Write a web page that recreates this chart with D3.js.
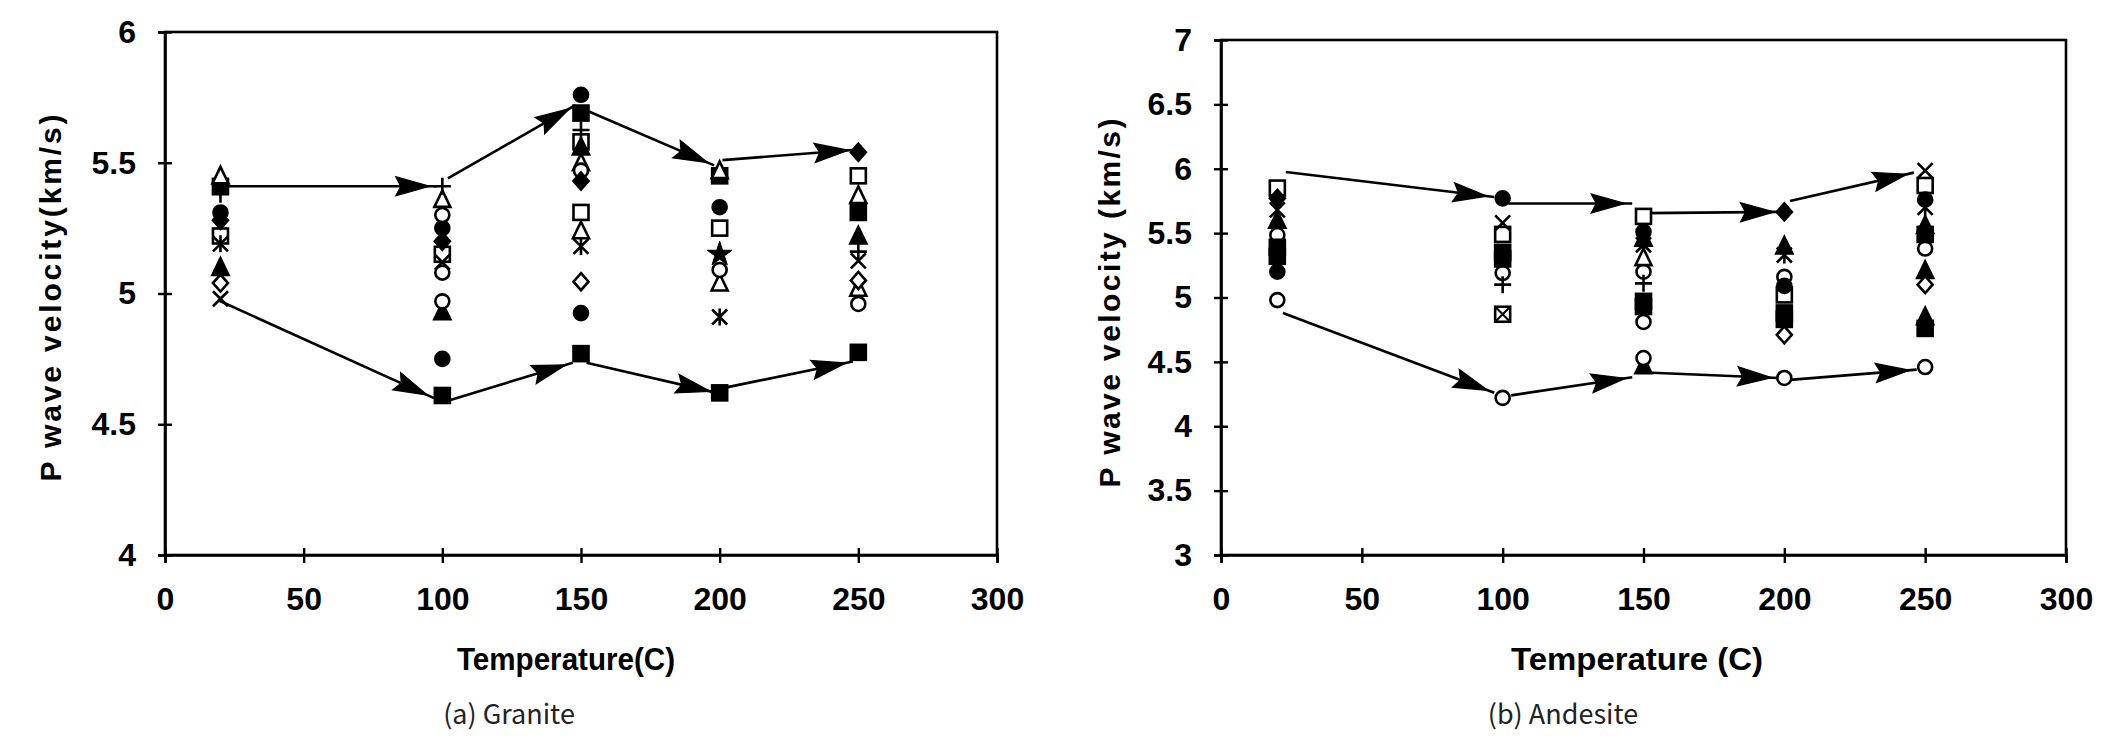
<!DOCTYPE html>
<html>
<head>
<meta charset="utf-8">
<script src="https://cdn.jsdelivr.net/npm/d3@7"></script>
<style>
  html, body { margin: 0; padding: 0; background: #fff; }
  svg { display: block; }
</style>
</head>
<body>
<svg id="chart" width="2127" height="756"></svg>
<script>
// ---------------- DATA ----------------
const temps = [20, 100, 150, 200, 250];
const xTicks = [0, 50, 100, 150, 200, 250, 300];
const graniteYTicks = [4, 4.5, 5, 5.5, 6];
const andesiteYTicks = [3, 3.5, 4, 4.5, 5, 5.5, 6, 6.5, 7];

// Granite P-wave velocity (km/s) by marker type, at temps 20/100/150/200/250 C
const graniteFilledSquare1 = [5.41, 4.61, 4.77, 4.62, 4.775];
const graniteFilledSquare2 = [null, null, 5.69, 5.45, 5.31];
const graniteOpenSquare1   = [5.22, 5.15, 5.31, 5.25, 5.45];
const graniteOpenSquare2   = [null, null, 5.58, null, null];
const graniteOpenTriangle1 = [5.45, 5.36, 5.50, 5.47, 5.375];
const graniteOpenTriangle2 = [null, null, 5.24, 5.04, 5.02];
const graniteFilledTriangle = [5.10, 4.93, 5.56, null, 5.22];
const graniteFilledCircle1 = [5.31, 5.25, 5.76, 5.33, null];
const graniteFilledCircle2 = [null, 4.75, 4.925, null, null];
const graniteOpenCircle1   = [null, 5.30, 5.47, 5.09, 4.96];
const graniteOpenCircle2   = [null, 5.08, null, null, null];
const graniteOpenCircle3   = [null, 4.97, null, null, null];
const graniteFilledDiamond = [5.28, 5.20, 5.43, null, 5.54];
const graniteOpenDiamond   = [5.04, null, 5.045, null, 5.05];
const graniteCross         = [4.98, 5.12, null, null, 5.125];
const graniteAsterisk      = [5.19, null, 5.18, 4.91, null];
const granitePlus          = [5.38, 5.41, 5.625, null, 5.16];
const graniteStar          = [null, null, null, 5.15, null];

// Granite hand-drawn envelope arrows: [startT, startV, endT, endV]
const graniteUpperArrows = [[19, 5.41, 98, 5.41], [102, 5.44, 148, 5.72], [152, 5.70, 198, 5.49], [201, 5.51, 249, 5.55]];
const graniteLowerArrows = [[19, 4.975, 97, 4.60], [102, 4.59, 147, 4.735], [152, 4.735, 199, 4.62], [202, 4.64, 248, 4.74]];

// Andesite P-wave velocity (km/s)
const andesiteOpenSquare      = [5.85, 5.49, 5.63, 5.02, 5.87];
const andesiteFilledDiamond   = [5.77, null, null, 5.665, null];
const andesiteAsterisk        = [5.68, null, 5.41, 5.33, 5.70];
const andesiteFilledTriangle1 = [5.60, null, 5.46, 5.40, 5.56];
const andesiteFilledTriangle2 = [null, null, 4.47, null, 4.85];
const andesiteFilledTriangle3 = [null, null, null, null, 5.21];
const andesiteOpenCircle1     = [5.485, 5.19, 5.20, 5.16, 5.38];
const andesiteOpenCircle2     = [4.98, 4.22, 4.53, 4.375, 4.46];
const andesiteOpenCircle3     = [null, null, 4.81, null, null];
const andesiteFilledSquare1   = [5.39, 5.35, 4.97, 4.88, 5.49];
const andesiteFilledSquare2   = [5.32, 5.30, 4.93, 4.83, 4.76];
const andesiteFilledCircle    = [5.20, 5.77, 5.51, 5.09, 5.76];
const andesiteCross           = [null, 5.58, null, null, 5.985];
const andesiteSquareCross     = [null, 4.87, null, null, null];
const andesitePlus            = [null, 5.10, 5.11, null, null];
const andesiteOpenTriangle    = [null, null, 5.31, null, null];
const andesiteOpenDiamond     = [null, null, null, 4.71, 5.10];

const andesiteUpperArrows = [[23, 5.975, 97, 5.78], [102, 5.73, 146, 5.73], [151, 5.655, 199, 5.665], [202, 5.75, 246, 5.97]];
const andesiteLowerArrows = [[22, 4.88, 97, 4.26], [103, 4.24, 146, 4.38], [149, 4.42, 198, 4.375], [202, 4.36, 247, 4.44]];

// ---------------- TABLES ----------------
const graniteSeries = [
  ["fsq", graniteFilledSquare1], ["fsq", graniteFilledSquare2],
  ["osq", graniteOpenSquare1], ["osq", graniteOpenSquare2],
  ["otri", graniteOpenTriangle1], ["otri", graniteOpenTriangle2],
  ["ftri", graniteFilledTriangle],
  ["fcir", graniteFilledCircle1], ["fcir", graniteFilledCircle2],
  ["ocir", graniteOpenCircle1], ["ocir", graniteOpenCircle2], ["ocir", graniteOpenCircle3],
  ["fdia", graniteFilledDiamond], ["odia", graniteOpenDiamond],
  ["cross", graniteCross], ["ast", graniteAsterisk], ["plus", granitePlus], ["star", graniteStar]
];
const andesiteSeries = [
  ["osq", andesiteOpenSquare], ["fdia", andesiteFilledDiamond], ["ast", andesiteAsterisk],
  ["ftri", andesiteFilledTriangle1], ["ftri", andesiteFilledTriangle2], ["ftri", andesiteFilledTriangle3],
  ["ocir", andesiteOpenCircle1], ["ocir", andesiteOpenCircle2], ["ocir", andesiteOpenCircle3],
  ["fsq", andesiteFilledSquare1], ["fsq", andesiteFilledSquare2], ["fcir", andesiteFilledCircle],
  ["cross", andesiteCross], ["sqx", andesiteSquareCross], ["plus", andesitePlus],
  ["otri", andesiteOpenTriangle], ["odia", andesiteOpenDiamond]
];

const panels = [
  {
    left: 165, right: 997, top: 32, bottom: 555,
    yDomain: [4, 6], yTicks: graniteYTicks,
    series: graniteSeries, upper: graniteUpperArrows, lower: graniteLowerArrows,
    xTitle: "Temperature(C)", yTitle: "P wave velocity(km/s)",
    xTitleX: 566, xTitleLen: 218, yTitleX: 50, yTitleY: 298, yTitleLen: 367,
    caption: "(a) Granite", captionX: 509
  },
  {
    left: 1221, right: 2066, top: 40, bottom: 555,
    yDomain: [3, 7], yTicks: andesiteYTicks,
    series: andesiteSeries, upper: andesiteUpperArrows, lower: andesiteLowerArrows,
    xTitle: "Temperature (C)", yTitle: "P wave velocity (km/s)",
    xTitleX: 1637, xTitleLen: 252, yTitleX: 1109, yTitleY: 303, yTitleLen: 369,
    caption: "(b) Andesite", captionX: 1563
  }
];

// ---------------- DRAW ----------------
const svg = d3.select("#chart");
const AXIS_FONT = "'Liberation Sans', Arial, Helvetica, sans-serif";

function drawMarker(g, type, cx, cy) {
  const s = 7.5;
  const black = "#000";
  const sw = 2.6;
  const p = g.append("g").attr("transform", `translate(${cx},${cy})`);
  const fillFor = t => t.startsWith("f") || t === "star" ? black : "#fff";
  switch (type) {
    case "fsq": case "osq": case "sqx":
      p.append("rect").attr("x", -s).attr("y", -s).attr("width", 2 * s).attr("height", 2 * s)
        .attr("fill", type === "fsq" ? black : "#fff").attr("stroke", black).attr("stroke-width", sw);
      if (type === "sqx") {
        p.append("path").attr("d", `M${-s},${-s}L${s},${s}M${s},${-s}L${-s},${s}`).attr("stroke", black).attr("stroke-width", 2);
      }
      break;
    case "ftri": case "otri":
      p.append("path").attr("d", `M0,${-s - 1.5}L${s + 0.5},${s}L${-s - 0.5},${s}Z`)
        .attr("fill", fillFor(type)).attr("stroke", black).attr("stroke-width", sw).attr("stroke-linejoin", "miter");
      break;
    case "fcir": case "ocir":
      p.append("circle").attr("r", s - 0.5)
        .attr("fill", fillFor(type)).attr("stroke", black).attr("stroke-width", sw);
      break;
    case "fdia": case "odia":
      p.append("path").attr("d", `M0,${-s - 1}L${s},0L0,${s + 1}L${-s},0Z`)
        .attr("fill", fillFor(type)).attr("stroke", black).attr("stroke-width", sw);
      break;
    case "cross":
      p.append("path").attr("d", `M${-s},${-s}L${s},${s}M${s},${-s}L${-s},${s}`)
        .attr("stroke", black).attr("stroke-width", sw);
      break;
    case "ast":
      p.append("path").attr("d", `M${-s},${-s}L${s},${s}M${s},${-s}L${-s},${s}M0,${-s - 1}L0,${s + 1}`)
        .attr("stroke", black).attr("stroke-width", sw);
      break;
    case "plus":
      p.append("path").attr("d", `M${-s - 1},0L${s + 1},0M0,${-s - 1}L0,${s + 1}`)
        .attr("stroke", black).attr("stroke-width", sw);
      break;
    case "star":
      p.append("path").attr("d", d3.symbol(d3.symbolStar, 190)())
        .attr("fill", black).attr("stroke", black).attr("stroke-width", 1);
      break;
  }
}

function drawArrow(g, x1, y1, x2, y2) {
  g.append("line").attr("x1", x1).attr("y1", y1).attr("x2", x2).attr("y2", y2)
    .attr("stroke", "#000").attr("stroke-width", 2.6);
  const dx = x2 - x1, dy = y2 - y1;
  const len = Math.hypot(dx, dy);
  const ux = dx / len, uy = dy / len;
  const tipBack = 7, headLen = 34, halfW = 9.5;
  const tx = x2 - ux * tipBack, ty = y2 - uy * tipBack;
  const bx = tx - ux * headLen, by = ty - uy * headLen;
  const nx = -uy, ny = ux;
  g.append("path")
    .attr("d", `M${tx},${ty}L${bx + nx * halfW},${by + ny * halfW}L${bx + ux * 5},${by + uy * 5}L${bx - nx * halfW},${by - ny * halfW}Z`)
    .attr("fill", "#000").attr("stroke", "#000").attr("stroke-width", 1.2);
}

panels.forEach(pn => {
  const x = d3.scaleLinear().domain([0, 300]).range([pn.left, pn.right]);
  const y = d3.scaleLinear().domain(pn.yDomain).range([pn.bottom, pn.top]);
  const g = svg.append("g");

  // frame
  g.append("rect").attr("x", pn.left).attr("y", pn.top)
    .attr("width", pn.right - pn.left).attr("height", pn.bottom - pn.top)
    .attr("fill", "none").attr("stroke", "#000").attr("stroke-width", 2.6);

  // x axis
  const xa = g.append("g").attr("transform", `translate(0,${pn.bottom})`)
    .call(d3.axisBottom(x).tickValues(xTicks).tickSize(8).tickPadding(24).tickFormat(d3.format("d")));
  xa.select(".domain").attr("stroke-width", 2.6);
  xa.selectAll(".tick line").attr("y1", -7).attr("y2", 8).attr("stroke-width", 2.4);
  xa.selectAll(".tick text").attr("font-family", AXIS_FONT).attr("font-weight", "bold")
    .attr("font-size", 32).attr("fill", "#000").attr("dy", "0.71em");

  // y axis
  const ya = g.append("g").attr("transform", `translate(${pn.left},0)`)
    .call(d3.axisLeft(y).tickValues(pn.yTicks).tickSize(7).tickPadding(22).tickFormat(d => String(d)));
  ya.select(".domain").attr("stroke-width", 2.6);
  ya.selectAll(".tick line").attr("x1", -7).attr("x2", 7).attr("stroke-width", 2.4);
  ya.selectAll(".tick text").attr("font-family", AXIS_FONT).attr("font-weight", "bold")
    .attr("font-size", 32).attr("fill", "#000");

  // envelope arrows
  const ag = g.append("g");
  pn.upper.concat(pn.lower).forEach(s => drawArrow(ag, x(s[0]), y(s[1]), x(s[2]), y(s[3])));

  // markers
  const mg = g.append("g");
  pn.series.forEach(([type, vals]) => {
    vals.forEach((v, i) => {
      if (v === null) return;
      drawMarker(mg, type, x(temps[i]), y(v));
    });
  });

  // titles
  g.append("text").attr("x", pn.xTitleX).attr("y", 670).attr("text-anchor", "middle")
    .attr("font-family", AXIS_FONT).attr("font-weight", "bold").attr("font-size", 31)
    .attr("textLength", pn.xTitleLen).attr("lengthAdjust", "spacingAndGlyphs")
    .text(pn.xTitle);
  g.append("text").attr("transform", `translate(${pn.yTitleX},${pn.yTitleY}) rotate(-90)`)
    .attr("text-anchor", "middle").attr("dy", "0.35em")
    .attr("font-family", AXIS_FONT).attr("font-weight", "bold").attr("font-size", 30)
    .attr("textLength", pn.yTitleLen).attr("lengthAdjust", "spacing")
    .text(pn.yTitle);

  // caption
  g.append("text").attr("x", pn.captionX).attr("y", 724).attr("text-anchor", "middle")
    .attr("font-family", "'Noto Sans CJK KR', 'Noto Sans', sans-serif").attr("font-size", 27)
    .attr("fill", "#222").text(pn.caption);
});
</script>
</body>
</html>
